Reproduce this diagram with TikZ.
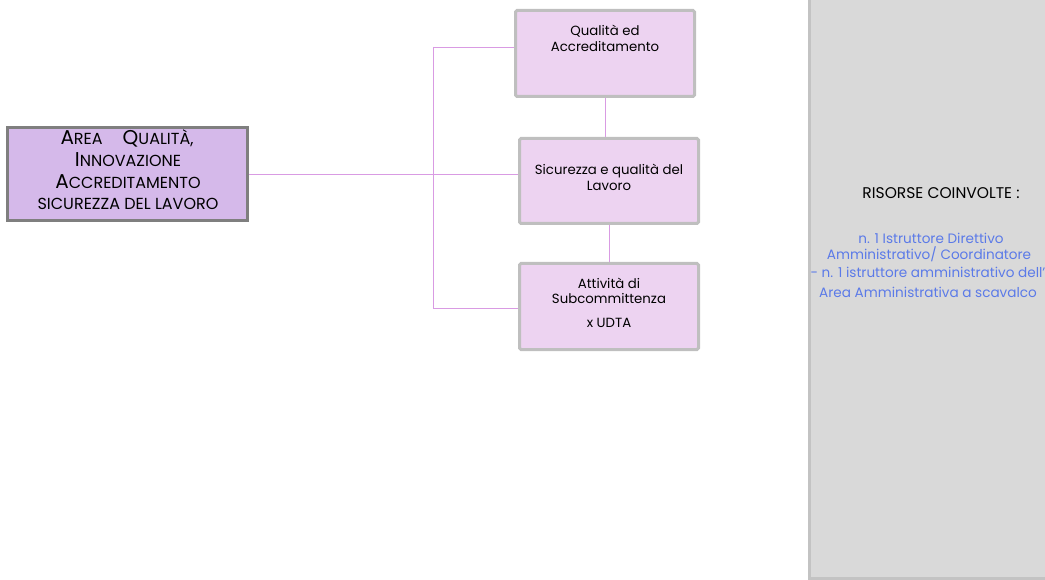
\documentclass[tikz,border=0pt]{standalone}
\usepackage{fontspec}
\setmainfont{Poppins}[Ligatures=NoCommon]
\definecolor{mainfill}{HTML}{D5B9EA}
\definecolor{mainedge}{HTML}{7F7F7F}
\definecolor{boxfill}{HTML}{EDD3F1}
\definecolor{boxedge}{HTML}{BFBFBF}
\definecolor{wire}{HTML}{D99BE3}
\definecolor{panelfill}{HTML}{D9D9D9}
\definecolor{paneledge}{HTML}{C3C3C3}
\definecolor{staff}{HTML}{5B7AE8}
% fake small caps: large initial, smaller remaining capitals
\newcommand{\scbig}[1]{{\fontsize{20}{22}\selectfont #1}}
\newcommand{\scsmall}[1]{{\fontsize{16}{22}\selectfont #1}}
\begin{document}
\begin{tikzpicture}[x=1pt,y=-1pt,
  areabox/.style={draw=mainedge,fill=mainfill,line width=3pt,minimum width=240pt,minimum height=93pt,inner sep=0pt},
  unitbox/.style={draw=boxedge,fill=boxfill,line width=3pt,rounded corners=1.5pt,minimum width=179pt,minimum height=86pt,inner sep=0pt},
  arealine/.style={inner sep=0pt,anchor=base},
  unitline/.style={inner sep=0pt,anchor=base,font=\fontsize{13.3}{16}\selectfont},
  staffline/.style={inner sep=0pt,anchor=base,text=staff,font=\fontsize{13.6}{16}\selectfont},
  wireline/.style={draw=wire,line width=0.9pt}]
\useasboundingbox (0,0) rectangle (1045,580);

% resources panel on the right
\path[fill=panelfill] (809.5,0) rectangle (1046,578.5);
\draw[paneledge,line width=3pt] (809.5,-2) -- (809.5,578.5) -- (1047,578.5);
\node[inner sep=0pt,anchor=base,font=\fontsize{15.5}{18}\selectfont] (res) at (941,198.5) {RISORSE COINVOLTE :};
\node[staffline] (st1) at (931,243.5) {n. 1 Istruttore Direttivo};
\node[staffline] (st2) at (929,259.5) {Amministrativo/ Coordinatore};
\node[staffline] (st3) at (928,277.5) {- n. 1 istruttore amministrativo dell’};
\node[staffline] (st4) at (928,298) {Area Amministrativa a scavalco};

% area box
\node[areabox] (area) at (127.5,174) {};
\node[arealine] (al1) at (127,145) {\scbig{A}\scsmall{REA}\hspace{20pt}\scbig{Q}\scsmall{UALITÀ,}};
\node[arealine] (al2) at (128,166.5) {\scbig{I}\scsmall{NNOVAZIONE}};
\node[arealine] (al3) at (128,188.5) {\scbig{A}\scsmall{CCREDITAMENTO}};
\node[arealine] (al4) at (128,210) {\scsmall{SICUREZZA DEL LAVORO}};

% unit boxes
\node[unitbox] (qa) at (605,53.5) {};
\node[unitbox,minimum height=85pt] (sic) at (609,181) {};
\node[unitbox] (sub) at (609,306.5) {};
\node[unitline] (qa1) at (605,36) {Qualità ed};
\node[unitline] (qa2) at (605,52) {Accreditamento};
\node[unitline] (sic1) at (609,175) {Sicurezza e qualità del};
\node[unitline] (sic2) at (609,191) {Lavoro};
\node[unitline] (sub1) at (609,289) {Attività di};
\node[unitline] (sub2) at (609,304) {Subcommittenza};
\node[unitline] (sub3) at (609,327) {x UDTA};

% connectors
\coordinate (top) at (433,47);
\coordinate (bot) at (433,308);
\coordinate (mid) at (436,174.5);
\draw[wireline] (top) -- (bot);
\draw[wireline] (area.east |- mid) -- (mid);
\draw[wireline] (top) -- (top -| qa.west);
\draw[wireline] (mid) -- (mid -| sic.west);
\draw[wireline] (bot) -- (bot -| sub.west);
\draw[wireline] (qa.south) -- (qa.south |- sic.north);
\draw[wireline] (sic.south) -- (sic.south |- sub.north);
\end{tikzpicture}
\end{document}
